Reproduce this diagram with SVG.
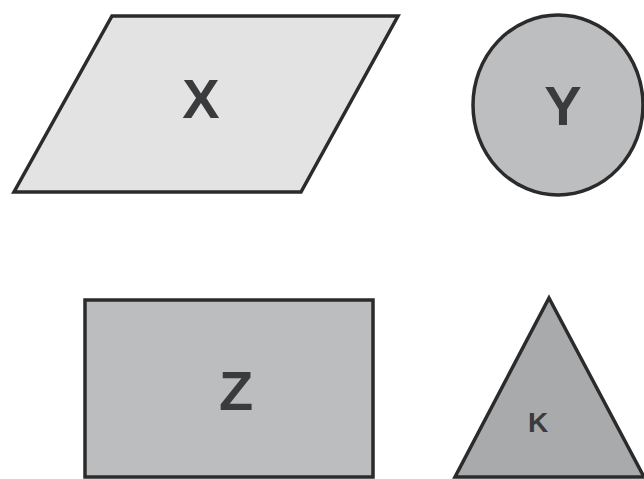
<svg xmlns="http://www.w3.org/2000/svg" width="644" height="479" viewBox="0 0 644 479">
<style>
.sh{stroke:#2b2b2b;stroke-width:3.5;stroke-linejoin:miter}
.t{font-family:"Liberation Sans",Arial,sans-serif;font-weight:bold;fill:#3a3b3d;text-anchor:middle}
</style>
<rect width="644" height="479" fill="#ffffff"/>
<g id="node-x">
<polygon class="sh" points="112,16 398,16 301,192 14,192" fill="#e3e3e3"/>
<text class="t" x="201" y="118" font-size="56">X</text>
</g>
<g id="node-y">
<ellipse class="sh" cx="558" cy="105" rx="85" ry="90" fill="#bdbec0"/>
<text class="t" x="563" y="125" font-size="56">Y</text>
</g>
<g id="node-z">
<rect class="sh" x="85" y="300" width="288" height="177" fill="#bcbdbf"/>
<text class="t" x="236" y="410" font-size="56">Z</text>
</g>
<g id="node-k">
<polygon class="sh" points="549,298 644,477 455,477" fill="#a9aaac"/>
<text class="t" x="538" y="432" font-size="28">K</text>
</g>
<g id="connectors"></g>
</svg>
